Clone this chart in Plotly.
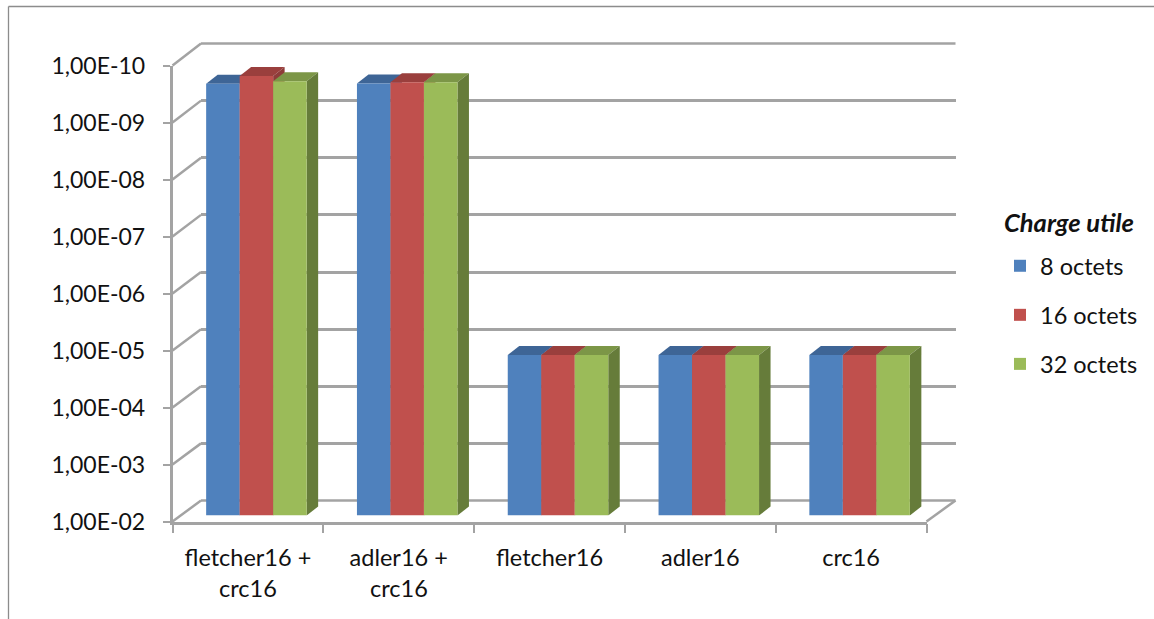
import plotly.graph_objects as go

# ---- data ----
categories_line1 = ["fletcher16 +", "adler16 +", "fletcher16", "adler16", "crc16"]
categories_line2 = ["crc16", "crc16", "", "", ""]
series_names = ["8 octets", "16 octets", "32 octets"]
values_8 = [2.66e-10, 2.64e-10, 1.53e-5, 1.53e-5, 1.53e-5]
values_16 = [1.95e-10, 2.5e-10, 1.53e-5, 1.53e-5, 1.53e-5]
values_32 = [2.4e-10, 2.5e-10, 1.53e-5, 1.53e-5, 1.53e-5]
tick_values = [1e-2, 1e-3, 1e-4, 1e-5, 1e-6, 1e-7, 1e-8, 1e-9, 1e-10]
tick_labels = ["1,00E-02", "1,00E-03", "1,00E-04", "1,00E-05", "1,00E-06",
               "1,00E-07", "1,00E-08", "1,00E-09", "1,00E-10"]
legend_title = "Charge utile"

# ---- style ----
W, H = 1154, 619
FONT = "Lato"
FS = 23.5
TEXT = "#111111"
GRID = "#A3A3A3"
FRONT = ["#4F81BD", "#C0504D", "#9BBB59"]
TOP = ["#3E6596", "#9A3F3D", "#7C9647"]
SIDE = ["#3A5F8C", "#8E3B39", "#667C3A"]
BASE = 1e-2
Y_RANGE = [-2, -10]
X_RANGE = [-0.5, 4.5]
DECADE_PX = 57.0
CAT_PX = 150.8
GROUP_W = 100.5 / CAT_PX
DEPTH_X = 11.5 / CAT_PX
DEPTH_K = 10 ** (-9 / DECADE_PX)


def px(x):
    return x / W


def py(y):
    return (H - y) / H


fig = go.Figure()

# back wall (xy)
fig.add_trace(go.Scatter(x=[0], y=[1e-5], mode="none", xaxis="x", yaxis="y",
                         showlegend=False, hoverinfo="skip"))

# depth faces (x2y2) and front faces (x3y3)
xs = list(range(len(categories_line1)))
series = [values_8, values_16, values_32]
bw = GROUP_W / 3
for g in xs:
    for s, vals in enumerate(series):
        v = vals[g]
        xl = g - GROUP_W / 2 + s * bw
        xr = xl + bw
        fig.add_trace(go.Scatter(
            x=[xl, xl + DEPTH_X, xr + DEPTH_X, xr, xl],
            y=[v, v * DEPTH_K, v * DEPTH_K, v, v],
            mode="lines", line=dict(width=0), fill="toself", fillcolor=TOP[s],
            xaxis="x2", yaxis="y2", showlegend=False, hoverinfo="skip"))
        fig.add_trace(go.Scatter(
            x=[xr, xr + DEPTH_X, xr + DEPTH_X, xr, xr],
            y=[v, v * DEPTH_K, BASE * DEPTH_K, BASE, v],
            mode="lines", line=dict(width=0), fill="toself", fillcolor=SIDE[s],
            xaxis="x2", yaxis="y2", showlegend=False, hoverinfo="skip"))

for s, vals in enumerate(series):
    fig.add_trace(go.Bar(
        x=xs, y=[v - BASE for v in vals], base=BASE, name=series_names[s],
        marker=dict(color=FRONT[s], line=dict(width=0)),
        xaxis="x3", yaxis="y3", legendgroup=series_names[s],
        customdata=vals, hovertemplate="%{customdata:.2e}<extra>" + series_names[s] + "</extra>"))

# front frame (x4y4): carries the visible axes
fig.add_trace(go.Scatter(x=categories_line1, y=[1e-5] * 5, mode="none", xaxis="x4", yaxis="y4",
                         showlegend=False, hoverinfo="skip"))

hidden = dict(visible=False, fixedrange=True)
log_hidden = dict(visible=False, type="log", range=Y_RANGE, autorange=False, fixedrange=True)

FX0, FX1, FY0, FY1 = 172.5, 926.5, 65.5, 521.5       # front plane
WX0, WX1, WY0, WY1 = 201.0, 955.5, 43.5, 500.5       # back wall
BX0, BX1, BY0, BY1 = 181.0, 935.0, 59.5, 515.5       # plane of the bars

shapes = []


def seg(x0, y0, x1, y1, color=GRID, w=2.5):
    shapes.append(dict(type="line", xref="paper", yref="paper",
                       x0=px(x0), y0=py(y0), x1=px(x1), y1=py(y1),
                       line=dict(color=color, width=w), layer="below"))


# diagonal lines on the side wall
for i in range(len(tick_values)):
    seg(FX0, FY1 - i * DECADE_PX, WX0, WY1 - i * (WY1 - WY0) / 8)
seg(FX1, FY1, WX1, WY1)
# top and bottom edges of the back wall
seg(WX0, WY0, WX1, WY0)
seg(WX0, WY1, WX1, WY1)
# outer chart border
seg(8.5, 6.5, 8.5, H + 2, "#8C8C8C", 1.3)
seg(8.5, 6.5, W + 2, 6.5, "#8C8C8C", 1.3)

annotations = [
    dict(text=t, x=categories_line1[i], xref="x4", y=py(588), yref="paper",
         xanchor="center", yanchor="middle", showarrow=False,
         font=dict(family=FONT, size=FS, color=TEXT))
    for i, t in enumerate(categories_line2) if t
]
annotations.append(dict(text="<b><i>" + legend_title + "</i></b>", x=px(1002), xref="paper",
                        y=py(222), yref="paper", xanchor="left", yanchor="middle",
                        showarrow=False, font=dict(family=FONT, size=25.5, color=TEXT)))

fig.update_layout(
    width=W, height=H, margin=dict(l=0, r=0, t=0, b=0, autoexpand=False),
    paper_bgcolor="white", plot_bgcolor="rgba(0,0,0,0)",
    font=dict(family=FONT, size=FS, color=TEXT),
    barmode="group", bargap=1 - GROUP_W, bargroupgap=0,
    shapes=shapes, annotations=annotations,
    xaxis=dict(domain=[px(WX0), px(WX1)], anchor="y", range=X_RANGE, visible=False, fixedrange=True),
    yaxis=dict(domain=[py(WY1), py(WY0)], anchor="x", type="log", range=Y_RANGE, autorange=False,
               tickmode="array", tickvals=tick_values, ticktext=[""] * len(tick_values),
               showgrid=True, gridcolor=GRID, gridwidth=2.5, zeroline=False, showline=False,
               ticks="", fixedrange=True),
    xaxis2=dict(domain=[px(BX0), px(BX1)], anchor="y2", range=X_RANGE, **hidden),
    yaxis2=dict(domain=[py(BY1), py(BY0)], anchor="x2", **log_hidden),
    xaxis3=dict(domain=[px(BX0), px(BX1)], anchor="y3", range=X_RANGE, **hidden),
    yaxis3=dict(domain=[py(BY1), py(BY0)], anchor="x3", **log_hidden),
    xaxis4=dict(domain=[px(FX0), px(FX1)], anchor="y4", type="category",
                categoryorder="array", categoryarray=categories_line1, range=X_RANGE,
                tickson="boundaries", ticks="outside", ticklen=9, tickwidth=1.5, tickcolor=GRID,
                showline=True, linecolor=GRID, linewidth=2.5, showgrid=False, zeroline=False,
                ticklabelstandoff=14, tickfont=dict(family=FONT, size=FS, color=TEXT),
                fixedrange=True),
    yaxis4=dict(domain=[py(FY1), py(FY0)], anchor="x4", type="log", range=Y_RANGE, autorange=False,
                tickmode="array", tickvals=tick_values, ticktext=tick_labels,
                ticks="outside", ticklen=7, tickwidth=1.5, tickcolor=GRID,
                showline=True, linecolor=GRID, linewidth=2.5, showgrid=False, zeroline=False,
                ticklabelstandoff=13, tickfont=dict(family=FONT, size=23, color=TEXT),
                fixedrange=True),
    legend=dict(x=px(1000), y=py(244), xanchor="left", yanchor="top",
                bgcolor="rgba(0,0,0,0)", borderwidth=0, tracegroupgap=15.5,
                font=dict(family=FONT, size=FS, color=TEXT)),
)

fig.write_html("out.html", config={"displayModeBar": False},
               post_script="document.body.style.margin='0';document.body.style.overflow='hidden';")
